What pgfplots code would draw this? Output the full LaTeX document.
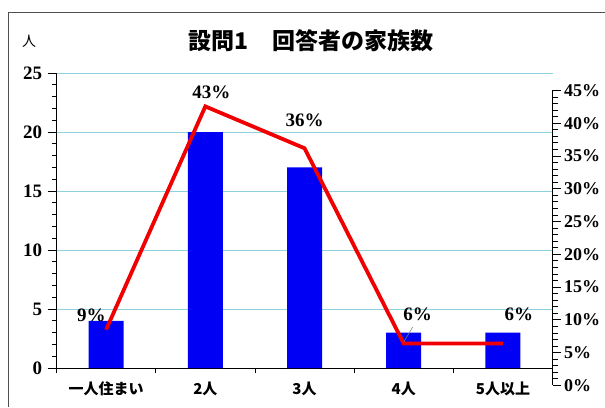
\documentclass[border=0pt]{standalone}
\usepackage{fontspec}
\setmainfont{Liberation Serif}
\newfontfamily\jp{Noto Sans CJK JP}
\usepackage{pgfplots}
\pgfplotsset{compat=1.18}
\definecolor{gridblue}{RGB}{140,210,225}
\definecolor{barblue}{RGB}{0,0,245}
\definecolor{linered}{RGB}{240,0,0}
\definecolor{framegray}{RGB}{80,80,80}
\begin{document}
\begin{tikzpicture}[x=1pt,y=1pt]
\useasboundingbox (0,0) rectangle (605,407);
\draw[framegray, line width=1pt] (8,0) -- (8,394) -- (605,394);
\node[font=\jp\bfseries\fontsize{23}{23}\selectfont] at (311,366) {設問1　回答者の家族数};
\node[font=\jp\fontsize{14}{14}\selectfont] at (29,366) {人};
\begin{scope}[overlay]
\begin{axis}[
  at={(57,33)}, anchor=south west, scale only axis,
  width=496pt, height=295pt,
  xmin=-0.5, xmax=4.5, ymin=0, ymax=25,
  axis y line*=left, axis x line*=bottom,
  axis line style={black, line width=0.8pt},
  ytick={0,5,...,25}, minor y tick num=4,
  ymajorgrids, grid style={gridblue, line width=1pt},
  xtick={0,...,4},
  xticklabels={一人住まい,2人,3人,4人,5人以上},
  major x tick style={draw=none},
  minor xtick={-0.5,0.5,...,4.5},
  tick align=outside,
  tick style={black, line width=0.8pt},
  major tick length=9pt, minor tick length=5pt,
  /pgf/number format/assume math mode=true,
  yticklabel style={font=\bfseries\fontsize{19}{19}\selectfont, xshift=-2pt},
  xticklabel style={font=\jp\bfseries\fontsize{15}{15}\selectfont, yshift=-1pt},
  clip=false,
]
\addplot[ybar, bar width=35pt, fill=barblue, draw=none] coordinates {(0,4)(1,20)(2,17)(3,3)(4,3)};
\end{axis}
\begin{axis}[
  at={(57,33)}, anchor=south west, scale only axis,
  width=496pt, height=295pt,
  xmin=-0.5, xmax=4.5, ymin=0, ymax=45,
  axis y line*=right, axis x line=none,
  axis line style={black, line width=0.8pt},
  ytick={0,5,...,45}, minor y tick num=4,
  yticklabel={\pgfmathprintnumber{\tick}\%},
  tick align=outside,
  tick style={black, line width=0.8pt},
  major tick length=8pt, minor tick length=5pt,
  /pgf/number format/assume math mode=true,
  yticklabel style={font=\bfseries\fontsize{18}{18}\selectfont},
  clip=false,
]
\addplot[linered, line width=3.8pt] coordinates {(0,8.51)(1,42.55)(2,36.17)(3,6.38)(4,6.38)};
\draw[gray, line width=0.6pt] (axis cs:3,6.6) -- (axis cs:3.09,8.9);
\node[font=\bfseries\fontsize{19}{19}\selectfont] at (axis cs:-0.15,10.7) {9\%};
\node[font=\bfseries\fontsize{19}{19}\selectfont] at (axis cs:1.06,44.7) {43\%};
\node[font=\bfseries\fontsize{19}{19}\selectfont] at (axis cs:2.0,40.4) {36\%};
\node[font=\bfseries\fontsize{19}{19}\selectfont] at (axis cs:3.14,10.8) {6\%};
\node[font=\bfseries\fontsize{19}{19}\selectfont] at (axis cs:4.16,10.8) {6\%};
\end{axis}
\end{scope}
\end{tikzpicture}
\end{document}
